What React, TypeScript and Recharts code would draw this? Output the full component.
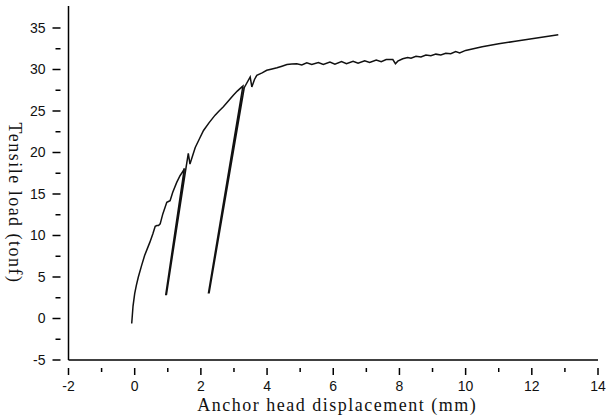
import React from 'react';
import { LineChart, Line, XAxis, YAxis, Label } from 'recharts';

// anchor head displacement (mm) and tensile load (tonf) in drawing order
const displacement = [
  -0.09, -0.05, 0.0, 0.05, 0.11, 0.21, 0.3, 0.4, 0.46, 0.55, 0.62, 0.67, 0.72, 0.77, 0.85, 0.97, 1.02, 1.07,
  1.15, 1.27, 1.37, 1.47, 1.5,
  0.94, 0.96,
  1.56, 1.62, 1.67, 1.75, 1.83, 1.95, 2.08, 2.25, 2.43, 2.55, 2.68, 2.83, 2.98, 3.1, 3.24, 3.27,
  2.23, 2.25,
  3.31, 3.49, 3.54, 3.62, 3.69, 3.85, 3.99, 4.15, 4.3, 4.45, 4.6, 4.75, 4.9,
  5.05, 5.2, 5.35, 5.55, 5.7, 5.9, 6.05, 6.25, 6.4, 6.6, 6.75, 6.95, 7.1, 7.3, 7.45, 7.6, 7.8, 7.88, 7.95,
  8.1, 8.25, 8.35, 8.5, 8.65, 8.8, 8.95, 9.1, 9.25, 9.4, 9.55, 9.7, 9.82, 10.0, 10.5, 11.0, 11.5, 12.0, 12.8,
];
const load = [
  -0.6, 1.5, 3.0, 4.0, 5.0, 6.4, 7.6, 8.6, 9.2, 10.2, 11.1, 11.2, 11.2, 11.4, 12.6, 14.0, 14.1, 14.2,
  15.2, 16.4, 17.2, 17.8, 18.1,
  2.9, 2.9,
  18.4, 19.9, 18.6, 19.6, 20.6, 21.6, 22.65, 23.6, 24.5, 25.0, 25.5, 26.2, 26.9, 27.4, 27.9, 28.0,
  3.1, 3.1,
  27.8, 29.1, 27.9, 28.8, 29.3, 29.6, 29.9, 30.05, 30.2, 30.4, 30.6, 30.65, 30.7,
  30.55, 30.8, 30.6, 30.85, 30.6, 30.9, 30.65, 30.95, 30.7, 31.0, 30.75, 31.05, 30.85, 31.15, 30.95, 31.2, 31.2, 30.7, 31.0,
  31.3, 31.45, 31.35, 31.6, 31.5, 31.75, 31.65, 31.85, 31.75, 31.95, 31.9, 32.15, 32.0, 32.3, 32.75, 33.1, 33.4, 33.7, 34.2,
];

const xTicks = [-2, -1, 0, 1, 2, 3, 4, 5, 6, 7, 8, 9, 10, 11, 12, 13, 14];
const yTicks = [-5, -2.5, 0, 2.5, 5, 7.5, 10, 12.5, 15, 17.5, 20, 22.5, 25, 27.5, 30, 32.5, 35];

const data = displacement.map((d, i) => ({ d, load: load[i] }));

const tickFont = '"Liberation Sans", Arial, sans-serif';
const titleFont = '"Liberation Serif", "DejaVu Serif", serif';

const XTick = (props: any) => {
  const { x, y, payload } = props;
  const major = payload.value % 2 === 0;
  return (
    <g>
      <line x1={x} x2={x} y1={y} y2={y + (major ? 7 : 4)} stroke="#000" strokeWidth={1.5} />
      {major && (
        <text x={x} y={y + 23} textAnchor="middle" fontSize={14} fontFamily={tickFont} fill="#111">
          {payload.value}
        </text>
      )}
    </g>
  );
};

const YTick = (props: any) => {
  const { x, y, payload } = props;
  const major = payload.value % 5 === 0;
  return (
    <g>
      <line x1={x} x2={x - (major ? 8 : 5)} y1={y} y2={y} stroke="#000" strokeWidth={1.5} />
      {major && (
        <text x={x - 15} y={y + 5} textAnchor="end" fontSize={14} fontFamily={tickFont} fill="#111">
          {payload.value}
        </text>
      )}
    </g>
  );
};

const YTitle = (props: any) => {
  const vb = props.viewBox;
  const cy = vb.y + vb.height / 2 + 20;
  return (
    <text
      x={15}
      y={cy}
      transform={`rotate(90 15 ${cy})`}
      textAnchor="middle"
      dominantBaseline="central"
      fontSize={18}
      letterSpacing={1.5}
      fontFamily={titleFont}
      fill="#111"
    >
      Tensile load (tonf)
    </text>
  );
};

const XTitle = (props: any) => {
  const vb = props.viewBox;
  const cx = vb.x + vb.width / 2 + 4;
  return (
    <text x={cx} y={411} textAnchor="middle" fontSize={18} letterSpacing={1.5} fontFamily={titleFont} fill="#111">
      Anchor head displacement (mm)
    </text>
  );
};

export default function App() {
  return (
    <div style={{ position: 'absolute', left: 0, top: 0, width: 606, height: 419, background: '#fff' }}>
      <LineChart width={606} height={419} data={data} margin={{ top: 6, right: 8, bottom: 19, left: 0 }}>
        <XAxis
          dataKey="d"
          type="number"
          domain={[-2, 14]}
          ticks={xTicks}
          interval={0}
          tick={<XTick />}
          tickLine={false}
          axisLine={{ stroke: '#000', strokeWidth: 1.5 }}
          height={40}
        >
          <Label content={<XTitle />} />
        </XAxis>
        <YAxis
          type="number"
          domain={[-5, 37.65]}
          ticks={yTicks}
          interval={0}
          tick={<YTick />}
          tickLine={false}
          axisLine={{ stroke: '#000', strokeWidth: 1.5 }}
          width={68.5}
          allowDataOverflow
        >
          <Label content={<YTitle />} />
        </YAxis>
        <Line
          type="linear"
          dataKey="load"
          stroke="#111"
          strokeWidth={1.5}
          dot={false}
          isAnimationActive={false}
        />
      </LineChart>
    </div>
  );
}
